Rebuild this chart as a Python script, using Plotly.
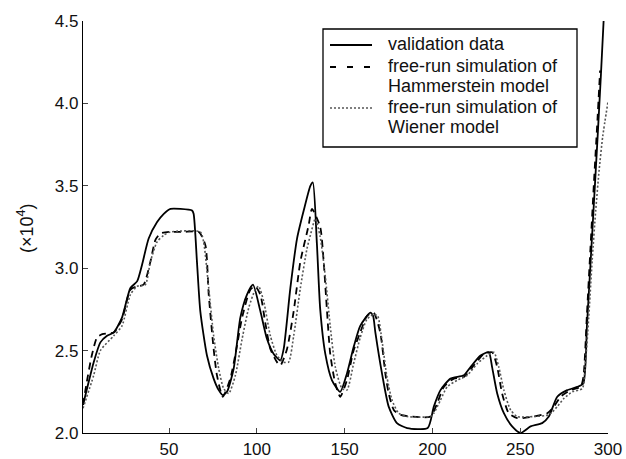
import plotly.graph_objects as go

# validation data (solid)
val_x = [1, 3.3, 7.1, 10.9, 14.7, 18.5, 23.2, 28, 31.8, 34.6, 38.4, 43.2, 47, 50.8, 56.5, 63.1, 64, 65.9, 67.8,
         71.6, 75.4, 78.3, 80.6, 83, 86.8, 90.6, 94.4, 97.8, 102, 105.8, 109.6, 113.4, 115.3, 119.1, 122.9,
         126.7, 130.5, 131.9, 134.2, 136.1, 139, 142.8, 147.5, 151.3, 155.1, 158.9, 164.6, 166.2, 167.5,
         171.3, 175.1, 179.8, 185.6, 197.3, 200.8, 204.6, 210.3, 217.9, 221.7, 227.4, 232.1, 234, 236.9,
         240.7, 245.4, 250.2, 255.9, 262.5, 266.3, 271.1, 276.8, 282.5, 285.9, 288, 290, 292, 294, 296, 297.5]
val_y = [2.17, 2.27, 2.43, 2.55, 2.59, 2.61, 2.70, 2.88, 2.92, 3.02, 3.18, 3.28, 3.33, 3.36, 3.36, 3.35, 3.33,
         3.04, 2.74, 2.47, 2.33, 2.26, 2.23, 2.25, 2.39, 2.70, 2.84, 2.90, 2.74, 2.57, 2.48, 2.44, 2.51, 2.88,
         3.18, 3.35, 3.50, 3.52, 3.15, 2.75, 2.48, 2.32, 2.25, 2.36, 2.52, 2.65, 2.73, 2.71, 2.61, 2.36, 2.16,
         2.06, 2.03, 2.03, 2.16, 2.26, 2.33, 2.35, 2.40, 2.47, 2.49, 2.40, 2.24, 2.12, 2.04, 2.00, 2.04, 2.06,
         2.10, 2.22, 2.26, 2.28, 2.30, 2.65, 3.02, 3.40, 3.78, 4.18, 4.50]

# free-run simulation of Hammerstein model (dashed)
ham_x = [1, 3, 6, 9, 12, 18.5, 23.2, 28, 31.8, 35.5, 39.4, 42.2, 45, 50, 58, 67, 70.7, 72.6, 75.4, 77.3, 80.6,
         84.9, 88.7, 91.6, 96.3, 99.1, 102, 104.8, 107.7, 111.5, 113.4, 117.2, 121, 124.8, 129.5, 131.4, 136.1,
         138, 139.9, 141.8, 144.7, 147.5, 151.3, 155.1, 158.9, 162.7, 166.5, 170.3, 173.2, 175.1, 178, 181.7,
         187.5, 198.9, 202.7, 206.5, 212.2, 217.9, 223.6, 229.3, 234, 236.9, 239.7, 243.5, 248.3, 257.8,
         265.4, 269.2, 273, 278.7, 284.4, 286, 288, 290, 292, 294, 295.5]
ham_y = [2.17, 2.30, 2.47, 2.58, 2.60, 2.61, 2.69, 2.87, 2.89, 2.90, 3.04, 3.17, 3.21, 3.22, 3.22, 3.22, 3.14,
         2.84, 2.51, 2.35, 2.22, 2.33, 2.53, 2.70, 2.87, 2.89, 2.84, 2.67, 2.51, 2.43, 2.41, 2.51, 2.74, 3.04,
         3.26, 3.36, 3.25, 3.05, 2.75, 2.48, 2.30, 2.22, 2.32, 2.50, 2.61, 2.71, 2.73, 2.61, 2.36, 2.24, 2.14,
         2.11, 2.10, 2.10, 2.18, 2.28, 2.33, 2.34, 2.41, 2.48, 2.49, 2.40, 2.24, 2.12, 2.09, 2.10, 2.12, 2.16,
         2.22, 2.26, 2.28, 2.34, 2.72, 3.12, 3.52, 3.90, 4.20]

# free-run simulation of Wiener model (dotted)
wie_x = [1, 7.1, 10.9, 18.5, 23.2, 28, 31.8, 36.5, 39.4, 43.2, 47, 50.8, 67.8, 69.7, 72.6, 75.4, 78.3, 81.1, 84,
         87.8, 91.6, 95.4, 99.1, 101, 103.9, 107.7, 111.5, 115.3, 118.1, 121, 124.8, 128.6, 130.5, 133.3,
         136.1, 139, 141.8, 144.7, 148.5, 151.3, 155.1, 158.9, 162.7, 166.5, 168.8, 171.3, 174.1, 177, 180.8,
         185.6, 198.9, 200.8, 204.6, 208.4, 214.1, 219.8, 225.5, 231.2, 235, 237.8, 240.7, 244.5, 248.3,
         257.8, 266.3, 271.1, 274.9, 279.7, 285.4, 287, 289, 291, 293, 295, 297, 300]
wie_y = [2.15, 2.35, 2.50, 2.59, 2.65, 2.84, 2.89, 2.90, 3.04, 3.16, 3.20, 3.22, 3.22, 3.16, 2.88, 2.59, 2.39,
         2.27, 2.24, 2.35, 2.57, 2.76, 2.87, 2.89, 2.80, 2.59, 2.47, 2.43, 2.43, 2.59, 2.88, 3.12, 3.20, 3.30,
         3.19, 2.95, 2.65, 2.40, 2.27, 2.26, 2.42, 2.58, 2.69, 2.72, 2.71, 2.56, 2.34, 2.20, 2.12, 2.10, 2.10,
         2.12, 2.20, 2.28, 2.32, 2.35, 2.42, 2.47, 2.49, 2.40, 2.26, 2.14, 2.10, 2.10, 2.11, 2.16, 2.21, 2.25,
         2.27, 2.40, 2.70, 3.05, 3.35, 3.60, 3.80, 4.01]

x_ticks = [50, 100, 150, 200, 250, 300]
y_ticks = [2.0, 2.5, 3.0, 3.5, 4.0, 4.5]
legend_rows = [["validation data"],
               ["free-run simulation of", "Hammerstein model"],
               ["free-run simulation of", "Wiener model"]]

W, H = 626, 459
ML, MR, MT, MB = 83, 18, 21, 26
PW, PH = W - ML - MR, H - MT - MB


def px(x):
    return (x - ML) / PW


def py(y):
    return (H - MB - y) / PH


font = "Liberation Sans, Arial, sans-serif"
styles = [dict(color="black", width=1.8),
          dict(color="black", width=1.8, dash="7px,5px"),
          dict(color="#555555", width=1.6, dash="2px,2px")]
legend_styles = [dict(color="black", width=1.8),
                 dict(color="black", width=1.8, dash="6px,11px"),
                 dict(color="#555555", width=1.6, dash="2px,2px")]
names = [" ".join(r) for r in legend_rows]

fig = go.Figure()
for xs, ys, st, nm in [(val_x, val_y, styles[0], names[0]), (ham_x, ham_y, styles[1], names[1]),
                       (wie_x, wie_y, styles[2], names[2])]:
    fig.add_trace(go.Scatter(x=xs, y=ys, mode="lines", name=nm,
                             line=dict(shape="spline", smoothing=0.6, **st)))

shapes = [dict(type="rect", xref="paper", yref="paper", x0=px(323), x1=px(577), y0=py(147), y1=py(29),
               line=dict(color="black", width=1.3), fillcolor="white", layer="above")]
annotations = []
row_y = [44, 66, 86, 107, 127]
sample_y = [45, 67, 108]
ri = 0
for k, rows in enumerate(legend_rows):
    shapes.append(dict(type="line", xref="paper", yref="paper", x0=px(330), x1=px(372),
                       y0=py(sample_y[k]), y1=py(sample_y[k]), line=legend_styles[k], layer="above"))
    for t in rows:
        annotations.append(dict(text=t, xref="paper", yref="paper", x=px(386), y=py(row_y[ri]),
                                xanchor="left", yanchor="middle", showarrow=False,
                                font=dict(size=18, family=font, color="#111")))
        ri += 1

annotations.append(dict(text="(×10<sup>4</sup>)", xref="paper", yref="paper", x=px(25), y=py(228),
                        xanchor="center", yanchor="middle", textangle=-90, showarrow=False,
                        font=dict(size=18, family=font, color="#111")))

fig.update_layout(
    width=W, height=H,
    margin=dict(l=ML, r=MR, t=MT, b=MB),
    plot_bgcolor="white", paper_bgcolor="white",
    font=dict(family=font, size=17, color="#111"),
    showlegend=False,
    xaxis=dict(range=[1, 300], tickvals=x_ticks, ticks="inside", ticklen=5, tickwidth=1.3,
               showline=True, linecolor="black", linewidth=1.3, showgrid=False, zeroline=False,
               tickfont=dict(size=17), automargin=False),
    yaxis=dict(range=[2.0, 4.5], tickvals=y_ticks, tickformat=".1f", ticks="inside", ticklen=5,
               tickwidth=1.3, showline=True, linecolor="black", linewidth=1.3, showgrid=False,
               zeroline=False, tickfont=dict(size=17), automargin=False),
    shapes=shapes,
    annotations=annotations,
)
fig.write_html("out.html")
